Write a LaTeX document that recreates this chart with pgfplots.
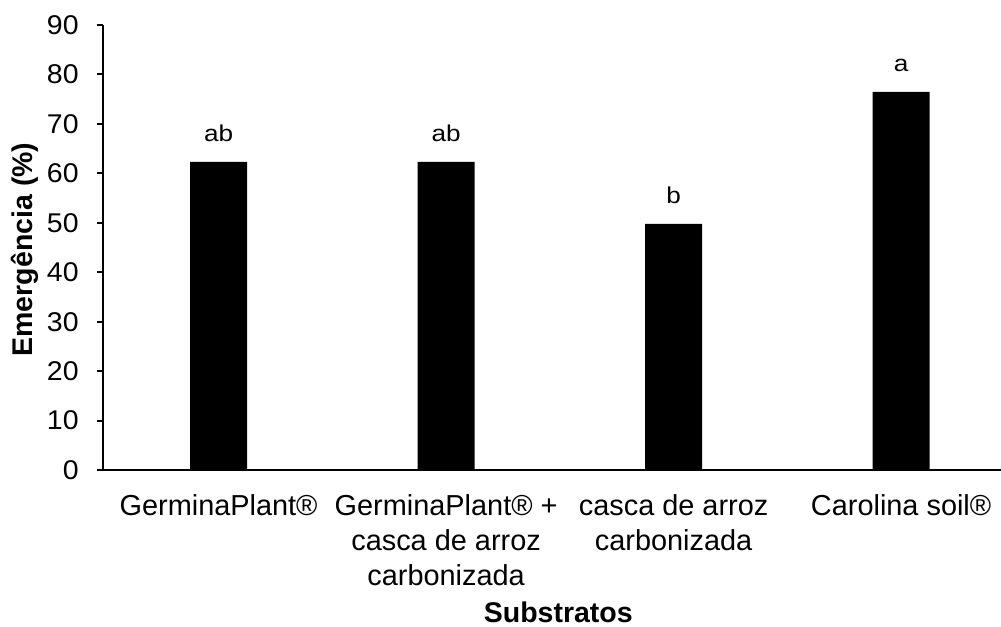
\documentclass[border=0pt]{standalone}
\usepackage{fontspec}
\setmainfont{Liberation Sans}
\usepackage{graphicx}
\usepackage{pgfplots}
\pgfplotsset{compat=1.18}

\begin{document}
\begin{tikzpicture}
\begin{axis}[
  at={(51.5bp,78.5bp)}, anchor=south west,
  scale only axis, width=449bp, height=222.5bp,
  xmin=-0.508, xmax=3.439, ymin=0, ymax=90,
  axis lines*=left,
  axis line style={line width=1.1bp, -},
  /pgf/number format/assume math mode=true,
  ytick={0,10,...,90},
  yticklabel={\scalebox{1.05}[1]{\pgfmathprintnumber{\tick}}},
  tick align=outside,
  major tick length=3bp,
  ytick style={line width=1bp, black},
  xtick=data,
  xtick style={draw=none},
  xticklabels={GerminaPlant®, {GerminaPlant® +\\casca de arroz\\carbonizada}, {casca de arroz\\carbonizada}, Carolina soil®},
  xticklabel style={align=center, font=\fontsize{14.5}{17.5}\selectfont, anchor=north, inner sep=0pt, yshift=-9bp},
  yticklabel style={font=\fontsize{13.6}{15}\selectfont, anchor=east, inner sep=0pt, xshift=-9bp},
  ylabel={Emergência (\%)},
  ylabel style={at={(axis description cs:-0.078,0.4955)}, anchor=base, font=\bfseries\fontsize{14.3}{17}\selectfont},
  xlabel={Substratos},
  xlabel style={at={(axis description cs:0.507,-0.3416)}, anchor=base, font=\bfseries\fontsize{14.3}{17}\selectfont},
  clip=false,
]
\addplot[ybar, fill=black, draw=none, bar width=28.5bp,
  nodes near coords={\scalebox{1.14}[1]{\pgfplotspointmeta}},
  point meta=explicit symbolic,
  every node near coord/.append style={anchor=base, yshift=10bp, inner sep=0pt, font=\fontsize{11.5}{13}\selectfont}]
table[meta=lbl] {
x y lbl
0 62.3 ab
1 62.3 ab
2 49.8 b
3 76.5 a
};
\end{axis}
\pgfresetboundingbox
\useasboundingbox (0,0) rectangle (500.5bp,313.5bp);
\end{tikzpicture}
\end{document}
